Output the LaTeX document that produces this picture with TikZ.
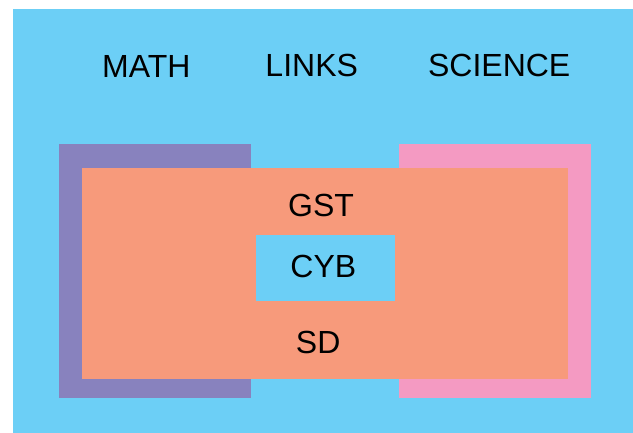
\documentclass[tikz,border=0pt]{standalone}
\usepackage{fontspec}
\setmainfont{Liberation Sans}
\usepackage{xcolor}
\usetikzlibrary{positioning}
\definecolor{skyblue}{HTML}{6CCFF6}
\definecolor{mathpurple}{HTML}{8882BE}
\definecolor{sciencepink}{HTML}{F49AC2}
\definecolor{gstsalmon}{HTML}{F79A7B}

\begin{document}
\begin{tikzpicture}[x=1pt, y=-1pt,
    area/.style={rectangle, inner sep=0pt, anchor=north west},
    label/.style={inner sep=0pt, anchor=base, font=\fontsize{32}{32}\selectfont}]
    \useasboundingbox (0,0) rectangle (633,433);

    % Background
    \node[area, fill=skyblue, minimum width=620pt, minimum height=424pt] (bg) at (13,9) {};

    % Headings
    \node[label] (math) at (146.3,78) {MATH};
    \node[label] (links) at (311.7,77) {LINKS};
    \node[label] (science) at (499.2,77) {SCIENCE};

    % Fields
    \node[area, fill=mathpurple, minimum width=192pt, minimum height=254pt] (mathbox) at (59,144) {};
    \node[area, fill=sciencepink, minimum width=192pt, minimum height=254pt] (sciencebox) at (399,144) {};
    \node[area, fill=gstsalmon, minimum width=486pt, minimum height=211pt] (gstbox) at (82,168) {};
    \node[area, fill=skyblue, minimum width=139pt, minimum height=66pt] (cybbox) at (256,235) {};

    % Inner labels
    \node[label] (gst) at (321,216.7) {GST};
    \node[label] (cyb) at (323.3,277.3) {CYB};
    \node[label] (sd) at (318.2,353.3) {SD};
\end{tikzpicture}
\end{document}
